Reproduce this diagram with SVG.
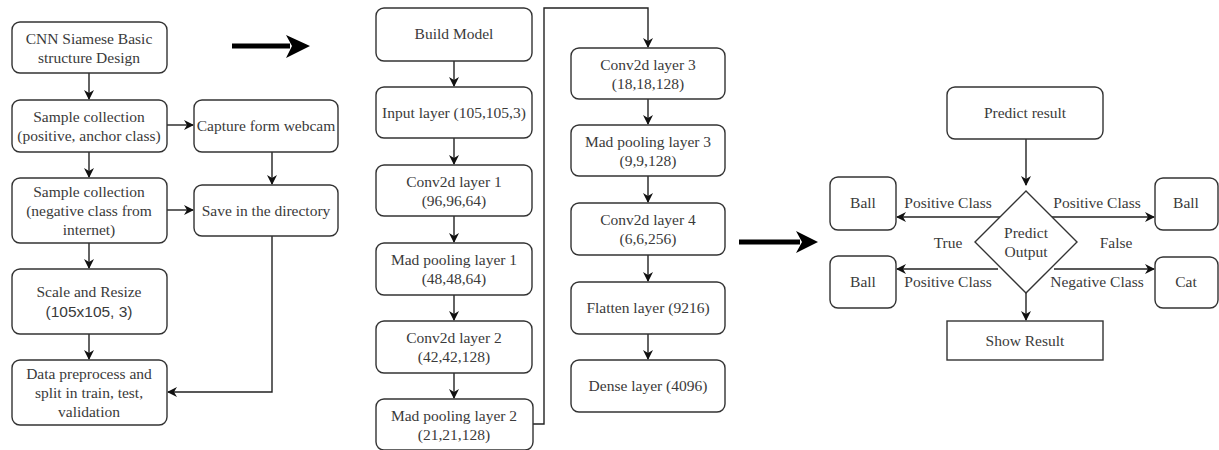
<svg xmlns="http://www.w3.org/2000/svg" width="1219" height="450" viewBox="0 0 1219 450">
<defs>
<style>
.b{fill:#fff;stroke:#333;stroke-width:1.4}
.t{font-size:15.5px;fill:#3a3a3a;text-anchor:middle}
.c{fill:none;stroke:#222;stroke-width:1.4}
.big{fill:none;stroke:#000;stroke-width:5}
</style>
<marker id="a" markerWidth="10" markerHeight="10" refX="9" refY="5" orient="auto" markerUnits="userSpaceOnUse">
<path d="M0,0 L10,5 L0,10 L3,5 Z" fill="#111"/>
</marker>
</defs>
<rect width="1219" height="450" fill="#fff"/>
<g font-family="Liberation Serif, Times New Roman, DejaVu Serif, serif">
<g id="connectors">
<path class="c" d="M89,73 V99" marker-end="url(#a)"/>
<path class="c" d="M89,152 V177" marker-end="url(#a)"/>
<path class="c" d="M89,243 V268" marker-end="url(#a)"/>
<path class="c" d="M89,334 V359" marker-end="url(#a)"/>
<path class="c" d="M167,125 H193" marker-end="url(#a)"/>
<path class="c" d="M167,210 H193" marker-end="url(#a)"/>
<path class="c" d="M272,152 V184" marker-end="url(#a)"/>
<path class="c" d="M272,236 V392 H168" marker-end="url(#a)"/>
<path class="c" d="M454,61 V86" marker-end="url(#a)"/>
<path class="c" d="M454,138 V164" marker-end="url(#a)"/>
<path class="c" d="M454,216 V242" marker-end="url(#a)"/>
<path class="c" d="M454,295 V320" marker-end="url(#a)"/>
<path class="c" d="M454,373 V398" marker-end="url(#a)"/>
<path class="c" d="M533,424 H544 V8 H648 V47" marker-end="url(#a)"/>
<path class="c" d="M648,99 V124" marker-end="url(#a)"/>
<path class="c" d="M648,176 V202" marker-end="url(#a)"/>
<path class="c" d="M648,255 V281" marker-end="url(#a)"/>
<path class="c" d="M648,334 V359" marker-end="url(#a)"/>
<path class="c" d="M1026,139 V185" marker-end="url(#a)"/>
<path class="c" d="M1000,217 H897" marker-end="url(#a)"/>
<path class="c" d="M1052,217 H1154" marker-end="url(#a)"/>
<path class="c" d="M998,269 H897" marker-end="url(#a)"/>
<path class="c" d="M1054,269 H1154" marker-end="url(#a)"/>
<path class="c" d="M1026,293 V320" marker-end="url(#a)"/>
<path class="big" d="M232,46 H290"/>
<path d="M286,35 L310,46 L286,58 L292,46 Z" fill="#000"/>
<path class="big" d="M739,242 H800"/>
<path d="M796,231 L818,242 L796,253 L802,242 Z" fill="#000"/>
<text class="t" x="948" y="208">Positive Class</text>
<text class="t" x="1097" y="208">Positive Class</text>
<text class="t" x="948" y="248">True</text>
<text class="t" x="1116" y="248">False</text>
<text class="t" x="948" y="287">Positive Class</text>
<text class="t" x="1097" y="287">Negative Class</text>
</g>

<g id="n1"><rect class="b" x="12" y="22" width="155" height="51" rx="8"/><text class="t" x="89" y="44">CNN Siamese Basic</text><text class="t" x="89" y="63">structure Design</text></g>
<g id="n2"><rect class="b" x="12" y="100" width="155" height="52" rx="8"/><text class="t" x="89" y="122">Sample collection</text><text class="t" x="89" y="141">(positive, anchor class)</text></g>
<g id="n3"><rect class="b" x="12" y="178" width="155" height="65" rx="8"/><text class="t" x="89" y="197">Sample collection</text><text class="t" x="89" y="216">(negative class from</text><text class="t" x="89" y="235">internet)</text></g>
<g id="n4"><rect class="b" x="12" y="269" width="155" height="65" rx="8"/><text class="t" x="89" y="297">Scale and Resize</text><text class="t" x="89" y="317" font-family="Liberation Sans, Arial, sans-serif" font-size="14">(105x105, 3)</text></g>
<g id="n5"><rect class="b" x="12" y="360" width="155" height="65" rx="8"/><text class="t" x="89" y="379">Data preprocess and</text><text class="t" x="89" y="398">split in train, test,</text><text class="t" x="89" y="417">validation</text></g>
<g id="n6"><rect class="b" x="194" y="100" width="144" height="52" rx="8"/><text class="t" x="266" y="131">Capture form webcam</text></g>
<g id="n7"><rect class="b" x="194" y="185" width="144" height="51" rx="8"/><text class="t" x="266" y="216">Save in the directory</text></g>

<g id="m1"><rect class="b" x="376" y="8" width="156" height="53" rx="8"/><text class="t" x="454" y="39">Build Model</text></g>
<g id="m2"><rect class="b" x="376" y="87" width="156" height="51" rx="8"/><text class="t" x="454" y="118">Input layer (105,105,3)</text></g>
<g id="m3"><rect class="b" x="376" y="165" width="156" height="51" rx="8"/><text class="t" x="454" y="187">Conv2d  layer 1</text><text class="t" x="454" y="206">(96,96,64)</text></g>
<g id="m4"><rect class="b" x="376" y="243" width="156" height="52" rx="8"/><text class="t" x="454" y="265">Mad pooling layer 1</text><text class="t" x="454" y="284">(48,48,64)</text></g>
<g id="m5"><rect class="b" x="376" y="321" width="156" height="52" rx="8"/><text class="t" x="454" y="343">Conv2d layer 2</text><text class="t" x="454" y="362">(42,42,128)</text></g>
<g id="m6"><rect class="b" x="376" y="399" width="157" height="51" rx="8"/><text class="t" x="454" y="421">Mad pooling layer 2</text><text class="t" x="454" y="440">(21,21,128)</text></g>

<g id="k1"><rect class="b" x="571" y="48" width="154" height="51" rx="8"/><text class="t" x="648" y="70">Conv2d layer 3</text><text class="t" x="648" y="89">(18,18,128)</text></g>
<g id="k2"><rect class="b" x="571" y="125" width="154" height="51" rx="8"/><text class="t" x="648" y="147">Mad pooling layer 3</text><text class="t" x="648" y="166">(9,9,128)</text></g>
<g id="k3"><rect class="b" x="571" y="203" width="154" height="52" rx="8"/><text class="t" x="648" y="225">Conv2d layer 4</text><text class="t" x="648" y="244">(6,6,256)</text></g>
<g id="k4"><rect class="b" x="571" y="282" width="154" height="52" rx="8"/><text class="t" x="648" y="313">Flatten layer (9216)</text></g>
<g id="k5"><rect class="b" x="571" y="360" width="154" height="52" rx="8"/><text class="t" x="648" y="391">Dense layer (4096)</text></g>

<g id="p1"><rect class="b" x="947" y="87" width="156" height="52" rx="8"/><text class="t" x="1025" y="118">Predict result</text></g>
<g id="p2"><path class="b" d="M1026,191 L1077,242 L1026,293 L975,242 Z"/><text class="t" x="1026" y="238">Predict</text><text class="t" x="1026" y="257">Output</text></g>
<g id="p3"><rect class="b" x="830" y="177" width="66" height="53" rx="8"/><text class="t" x="863" y="208">Ball</text></g>
<g id="p4"><rect class="b" x="1155" y="178" width="63" height="52" rx="8"/><text class="t" x="1186" y="208">Ball</text></g>
<g id="p5"><rect class="b" x="830" y="256" width="66" height="52" rx="8"/><text class="t" x="863" y="287">Ball</text></g>
<g id="p6"><rect class="b" x="1155" y="257" width="63" height="51" rx="8"/><text class="t" x="1186" y="287">Cat</text></g>
<g id="p7"><rect class="b" x="947" y="321" width="156" height="39"/><text class="t" x="1025" y="346">Show Result</text></g>
</g>
</svg>
